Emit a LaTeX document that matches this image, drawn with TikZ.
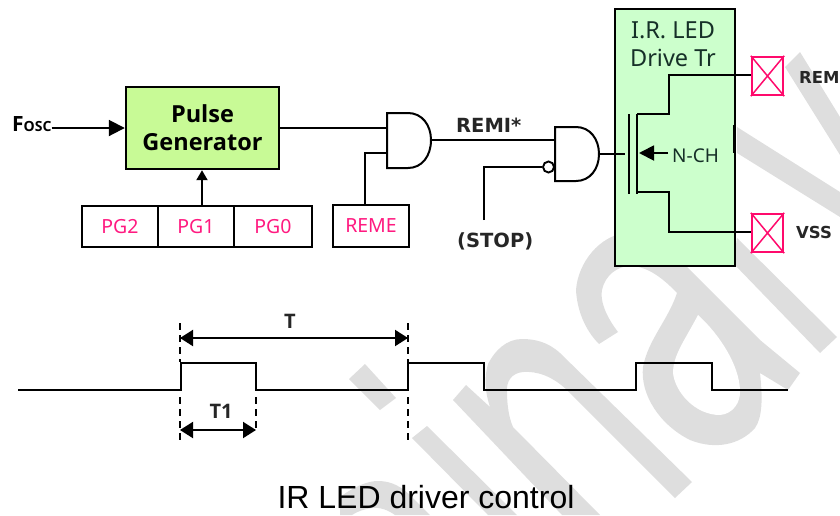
\documentclass[tikz,border=0pt]{standalone}
\usepackage{fontspec}
\setmainfont{Noto Sans}
\newfontfamily\capfont{Liberation Sans}
\newfontfamily\boldfam{Open Sans}
\newfontfamily\widefam{DejaVu Sans}
\usetikzlibrary{arrows.meta}
\definecolor{wm}{HTML}{DEDEDE}
\definecolor{pinkline}{HTML}{FF0A6C}
\definecolor{pinktext}{HTML}{FF1A80}
\definecolor{pgreen}{HTML}{C8FA96}
\definecolor{tgreen}{HTML}{CCFFCC}
\definecolor{dtext}{HTML}{163028}
\tikzset{
  x=1pt,y=-1pt,
  wire/.style={line width=1.9pt,line join=miter},
  gatel/.style={line width=2pt,line join=miter},
  wave/.style={line width=2pt,line join=miter},
  dashl/.style={line width=1.5pt,dash pattern=on 7pt off 5pt},
  dim/.style={line width=2pt,{Triangle[length=13pt,width=16pt]}-{Triangle[length=13pt,width=16pt]}},
  box/.style={draw=black,line width=2.4pt,inner sep=0pt,align=center},
  pad/.style={draw=pinkline,line width=2.4pt,minimum width=31pt,minimum height=38pt,inner sep=0pt},
  xline/.style={draw=pinkline,line width=1.5pt},
  blabel/.style={font=\widefam\fontsize{19.5}{22}\selectfont\bfseries,text=black!85,inner sep=0pt},
  plabel/.style={font=\widefam\fontsize{16.5}{20}\selectfont\bfseries,text=black!85,inner sep=0pt},
  tlabel/.style={font=\boldfam\fontsize{20}{22}\selectfont\bfseries,text=black!85,inner sep=0pt},
  pgtxt/.style={text=pinktext,font=\fontsize{19.5}{22}\selectfont},
}
\begin{document}
\begin{tikzpicture}
\useasboundingbox (0,0) rectangle (840,515);
% watermark
\begin{scope}
\fill[wm] (365,364)--(396,398)--(380,410)--(349,379)--cycle;
\fill[wm] (427,426)--(412,438)--(488,515)--(517,515)--cycle;
\fill[wm] (340,497) .. controls (355,486) and (368,481) .. (378,481) .. controls (392,481) and (402,487) .. (412,497) -- (430,515) -- (395,515) .. controls (388,510) and (380,507) .. (372,508) .. controls (365,509) and (358,511) .. (352,515) -- (340,515) -- cycle;
\fill[wm] (466,385)--(490,407) .. controls (485,392) and (484,378) .. (488,364) .. controls (495,350) and (507,339) .. (522,339) .. controls (535,339) and (548,342) .. (560,353) -- (692,482)--(675,498)--(567,390) .. controls (552,376) and (537,371) .. (523,372) .. controls (512,373) and (506,381) .. (507,392) .. controls (507,405) and (509,418) .. (513,427) -- (600,515)--(562,515)--(453,400)--cycle;
% a
\fill[wm] (599,344)--(618,332) .. controls (605,315) and (600,300) .. (602,290) .. controls (605,275) and (618,266) .. (630,266) .. controls (645,266) and (660,275) .. (677,293)
  -- (677,293) .. controls (668,320) and (648,340) .. (643,367) .. controls (640,395) and (660,425) .. (690,440) .. controls (715,450) and (740,445) .. (755,428) .. controls (762,418) and (763,400) .. (760,373) -- (788,390) -- (800,373) -- (760,340) -- (683,263) .. controls (660,240) and (640,232) .. (625,233) .. controls (600,236) and (578,262) .. (576,290) .. controls (577,310) and (585,330) .. (599,344) -- cycle;
\fill[white] (698,315) .. controls (685,340) and (673,355) .. (673,373) .. controls (675,392) and (695,415) .. (720,415) .. controls (733,414) and (741,402) .. (740,390) .. controls (739,365) and (720,335) .. (698,315) -- cycle;
\fill[wm] (737,238)--(837,337)--(820,353)--(733,263)--cycle;
\fill[wm] (800,52)--(840,117)--(840,155)--(785,67)--cycle;
\fill[wm] (737,127)--(840,192)--(840,217)--(737,153)--cycle;
\end{scope}

% driver block
\node[box,fill=tgreen,minimum width=120pt,minimum height=257pt] (drv) at (675,137.5) {};
\draw[line width=3.6pt] (734.5,125)--(734.5,153);
\node[text=dtext,font=\fontsize{23.5}{27.5}\selectfont,align=center,inner sep=0pt] (drvt) at (673,44) {I.R. LED\\Drive Tr};

% pads
\node[pad] (pad1) at (767.5,76) {};
\node[pad] (pad2) at (767.5,233) {};
\draw[xline] (pad1.north west)--(pad1.south east) (pad1.north east)--(pad1.south west);
\draw[xline] (pad2.north west)--(pad2.south east) (pad2.north east)--(pad2.south west);
\node[plabel,anchor=west] (remo) at (799,77) {REM};
\node[plabel,anchor=west] (vss) at (796,232) {VSS};

% pulse generator
\node[box,fill=pgreen,minimum width=153pt,minimum height=82pt,font=\boldfam\fontsize{23.5}{28}\selectfont\bfseries] (pg) at (202.5,128) {Pulse\\Generator};
\node[anchor=base west,inner sep=0pt] (fosc) at (12,131) {\boldfam\fontsize{21}{22}\selectfont\bfseries F\fontsize{14}{15}\selectfont OSC};
\draw[wire,-{Triangle[length=16pt,width=16pt]}] (fosc.east |- pg.west) -- (pg.west);

% PG register
\node[box,pgtxt,minimum width=76pt,minimum height=41pt] (pg2) at (120,226.5) {PG2};
\node[box,pgtxt,minimum width=76pt,minimum height=41pt] (pg1) at (196,226.5) {PG1};
\node[box,pgtxt,minimum width=78pt,minimum height=41pt] (pg0) at (273,226.5) {PG0};
\coordinate (pgin) at (202,206);
\draw[wire,-{Triangle[length=10pt,width=11pt]}] (pgin) -- (pgin |- pg.south);
\node[box,pgtxt,minimum width=76pt,minimum height=42pt] (reme) at (371,226) {REME};

% AND gate
\coordinate (and1) at (387,128);
\coordinate (and2) at (387,153);
\coordinate (andout) at (431,140);
\draw[gatel,fill=white] (387,113) -- (408,113) .. controls (422,113) and (431,125) .. (andout) .. controls (431,156) and (422,168) .. (408,168) -- (387,168) -- cycle;
\draw[wire] (pg.east) -- (and1);
\draw[wire] (reme.north -| 365,0) -- (365,153) -- (and2);

% NAND gate
\coordinate (nand1) at (555,140);
\coordinate (nandout) at (599,154);
\draw[gatel,fill=white] (555,127) -- (576,127) .. controls (590,127) and (599,139) .. (nandout) .. controls (599,169) and (590,181) .. (576,181) -- (555,181) -- cycle;
\draw[wire] (andout) -- (nand1);
\node[draw=black,line width=1.9pt,circle,fill=white,minimum size=11pt,inner sep=0pt] (bub) at (548.5,167) {};
\coordinate (stop) at (484,220);
\draw[wire] (stop) -- (484,167) -- (bub.west);
\node[blabel,anchor=west] (remi) at (456,125) {REMI*};
\node[blabel,anchor=west] (stopl) at (457,241) {(STOP)};

% transistor
\coordinate (gbar) at (625,154);
\draw[wire] (nandout) -- (gbar);
\draw[wire] (629,114) -- (629,194);
\draw[wire] (637,114) -- (637,194);
\draw[wire] (637,114) -- (669,114) -- (669,75) -- (pad1.west |- 669,75);
\draw[wire] (637,192) -- (669,192) -- (669,232) -- (pad2.west |- 669,232);
\node[text=dtext,font=\fontsize{19}{22}\selectfont,inner sep=0pt,anchor=west] (nch) at (672,156) {N-CH};
\coordinate (arr) at (668,153);
\draw[wire,-{Triangle[length=15pt,width=15pt]}] (arr) -- (639,153);

% waveform
\coordinate (w0) at (18,390);
\coordinate (w1) at (788,390);
\draw[wave] (w0) -- (181,390) -- (181,363) -- (256,363) -- (256,390) -- (408,390) -- (408,363) -- (484,363) -- (484,390) -- (636,390) -- (636,363) -- (712,363) -- (712,390) -- (w1);
\coordinate (ta) at (180,338);
\coordinate (tb) at (408,338);
\coordinate (tc) at (180,430);
\coordinate (td) at (256,430);
\draw[dashl] (180,323) -- (180,362);
\draw[dashl] (408,323) -- (408,362);
\draw[dashl] (180,397) -- (180,441);
\draw[dashl] (408,397) -- (408,441);
\draw[dashl] (256,397) -- (256,428);
\draw[dim] (ta) -- (tb);
\draw[dim] (tc) -- (td);
\node[tlabel] (tl) at (290,321) {T};
\node[tlabel] (t1l) at (221,411) {T1};

% caption
\node[font=\capfont\fontsize{32}{34}\selectfont,anchor=base,inner sep=0pt] (cap) at (426,508.5) {IR LED driver control};
\end{tikzpicture}
\end{document}
